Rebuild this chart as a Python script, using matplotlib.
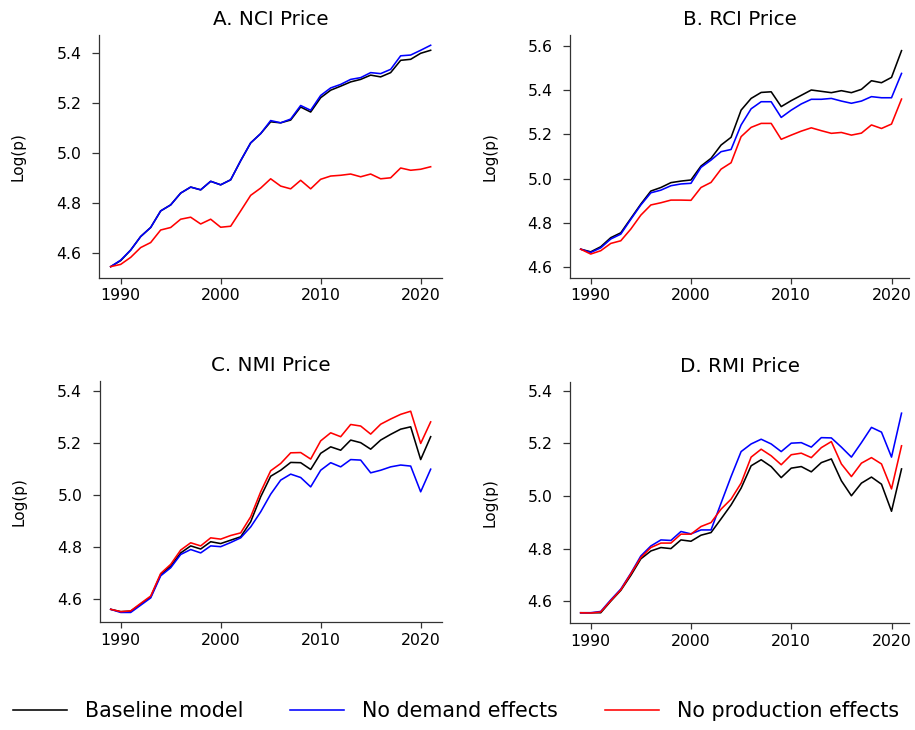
import numpy as np
from matplotlib import pyplot as plt
from matplotlib.ticker import FormatStrFormatter

years = np.arange(1989, 2022)

# A. NCI
nci_base = [4.547, 4.571, 4.613, 4.667, 4.703, 4.769, 4.793, 4.840, 4.864, 4.853, 4.887,
            4.873, 4.893, 4.969, 5.040, 5.077, 5.124, 5.120, 5.131, 5.183, 5.163, 5.220,
            5.250, 5.266, 5.283, 5.293, 5.310, 5.303, 5.320, 5.369, 5.373, 5.397, 5.409]
nci_nodem = [4.547, 4.573, 4.613, 4.667, 4.703, 4.769, 4.793, 4.840, 4.864, 4.853, 4.887,
             4.873, 4.893, 4.969, 5.040, 5.077, 5.129, 5.120, 5.135, 5.189, 5.170, 5.229,
             5.259, 5.273, 5.293, 5.300, 5.320, 5.316, 5.333, 5.387, 5.390, 5.409, 5.429]
nci_noprod = [4.547, 4.556, 4.584, 4.623, 4.643, 4.693, 4.703, 4.736, 4.744, 4.717, 4.736,
              4.704, 4.708, 4.769, 4.831, 4.860, 4.897, 4.868, 4.857, 4.891, 4.857, 4.895,
              4.908, 4.911, 4.916, 4.905, 4.916, 4.897, 4.901, 4.940, 4.931, 4.935, 4.945]

# B. RCI
rci_base = [4.681, 4.669, 4.692, 4.733, 4.755, 4.820, 4.885, 4.944, 4.960, 4.982, 4.989,
            4.994, 5.057, 5.092, 5.152, 5.187, 5.310, 5.363, 5.390, 5.393, 5.326, 5.353,
            5.377, 5.401, 5.395, 5.389, 5.398, 5.389, 5.404, 5.443, 5.434, 5.458, 5.579]
rci_nodem = [4.681, 4.666, 4.687, 4.727, 4.749, 4.816, 4.881, 4.936, 4.948, 4.968, 4.976,
             4.979, 5.051, 5.084, 5.122, 5.132, 5.243, 5.316, 5.348, 5.348, 5.277, 5.310,
             5.338, 5.359, 5.359, 5.363, 5.351, 5.341, 5.351, 5.371, 5.366, 5.366, 5.476]
rci_noprod = [4.681, 4.659, 4.674, 4.707, 4.719, 4.772, 4.835, 4.881, 4.891, 4.903, 4.903,
              4.902, 4.960, 4.983, 5.043, 5.072, 5.190, 5.232, 5.250, 5.250, 5.178, 5.197,
              5.215, 5.230, 5.217, 5.205, 5.209, 5.197, 5.206, 5.243, 5.227, 5.247, 5.360]

# C. NMI
nmi_base = [4.562, 4.553, 4.555, 4.582, 4.610, 4.696, 4.728, 4.779, 4.806, 4.794, 4.822,
            4.815, 4.828, 4.841, 4.899, 4.995, 5.074, 5.097, 5.127, 5.126, 5.100, 5.162,
            5.187, 5.174, 5.213, 5.203, 5.178, 5.213, 5.235, 5.255, 5.264, 5.138, 5.226]
nmi_nodem = [4.562, 4.550, 4.550, 4.578, 4.606, 4.691, 4.722, 4.773, 4.792, 4.779, 4.806,
             4.803, 4.819, 4.837, 4.879, 4.937, 5.005, 5.059, 5.082, 5.069, 5.033, 5.097,
             5.126, 5.110, 5.138, 5.136, 5.087, 5.097, 5.110, 5.117, 5.113, 5.014, 5.101]
nmi_noprod = [4.562, 4.553, 4.556, 4.585, 4.613, 4.700, 4.735, 4.790, 4.818, 4.806, 4.837,
              4.832, 4.846, 4.856, 4.918, 5.014, 5.095, 5.123, 5.164, 5.165, 5.140, 5.210,
              5.241, 5.226, 5.273, 5.267, 5.236, 5.274, 5.294, 5.312, 5.324, 5.200, 5.283]

# D. RMI
rmi_base = [4.556, 4.556, 4.556, 4.600, 4.641, 4.698, 4.761, 4.791, 4.804, 4.800, 4.833,
            4.828, 4.851, 4.861, 4.913, 4.966, 5.030, 5.115, 5.138, 5.112, 5.070, 5.106,
            5.112, 5.092, 5.127, 5.141, 5.058, 5.001, 5.049, 5.072, 5.045, 4.942, 5.103]
rmi_nodem = [4.556, 4.556, 4.561, 4.605, 4.646, 4.706, 4.772, 4.810, 4.833, 4.831, 4.865,
             4.856, 4.871, 4.871, 4.973, 5.074, 5.169, 5.198, 5.216, 5.198, 5.169, 5.201,
             5.203, 5.186, 5.222, 5.221, 5.186, 5.148, 5.203, 5.261, 5.243, 5.148, 5.315]
rmi_noprod = [4.556, 4.555, 4.559, 4.602, 4.643, 4.704, 4.766, 4.804, 4.821, 4.821, 4.855,
              4.855, 4.884, 4.899, 4.950, 4.988, 5.049, 5.148, 5.178, 5.153, 5.119, 5.157,
              5.163, 5.146, 5.184, 5.207, 5.122, 5.074, 5.125, 5.146, 5.122, 5.027, 5.191]

titles = ['A. NCI Price', 'B. RCI Price', 'C. NMI Price', 'D. RMI Price']
series = [
    (nci_base, nci_nodem, nci_noprod),
    (rci_base, rci_nodem, rci_noprod),
    (nmi_base, nmi_nodem, nmi_noprod),
    (rmi_base, rmi_nodem, rmi_noprod),
]
yticks = [
    [4.6, 4.8, 5.0, 5.2, 5.4],
    [4.6, 4.8, 5.0, 5.2, 5.4, 5.6],
    [4.6, 4.8, 5.0, 5.2, 5.4],
    [4.6, 4.8, 5.0, 5.2, 5.4],
]
legend_labels = ['Baseline model', 'No demand effects', 'No production effects']
colors = ['black', 'blue', 'red']

# panel rectangles in figure fraction, and their axis limits
rects = [
    (0.1085, 0.6196, 0.3745, 0.3325),
    (0.6230, 0.6196, 0.3705, 0.3325),
    (0.1093, 0.1475, 0.3734, 0.3305),
    (0.6230, 0.1462, 0.3705, 0.3310),
]
xlims = [(1987.86, 2022.13), (1987.94, 2021.75), (1987.93, 2022.1), (1987.94, 2021.75)]
ylims = [(4.503, 5.47), (4.552, 5.65), (4.512, 5.44), (4.516, 5.435)]

SPINE = '#333333'

fig = plt.figure(figsize=(9.15, 7.3), dpi=100)

handles = []
for k in range(4):
    ax = fig.add_axes(rects[k])
    for vals, c in zip(series[k], colors):
        ln, = ax.plot(years, vals, color=c, lw=1.15)
        if k == 0:
            handles.append(ln)
    ax.set_xlim(*xlims[k])
    ax.set_ylim(*ylims[k])
    ax.set_xticks([1990, 2000, 2010, 2020])
    ax.set_yticks(yticks[k])
    ax.yaxis.set_major_formatter(FormatStrFormatter('%.1f'))
    ax.set_title(titles[k], fontsize=14.3, pad=7)
    ax.set_ylabel('Log(p)', fontsize=11)
    ax.yaxis.set_label_coords(-0.214, 0.5)
    for side in ['top', 'right']:
        ax.spines[side].set_visible(False)
    for side in ['left', 'bottom']:
        ax.spines[side].set_color(SPINE)
        ax.spines[side].set_linewidth(0.9)
    ax.tick_params(axis='x', length=4.6, width=0.9, color=SPINE, labelsize=11.3, pad=3.0)
    ax.tick_params(axis='y', length=4.8, width=0.9, color=SPINE, labelsize=11.3, pad=8.0)

fig.legend(handles, legend_labels, loc='center left', bbox_to_anchor=(13 / 915, 1 - 711 / 730),
           ncol=3, frameon=False, fontsize=14.9, handlelength=2.6, handletextpad=0.87,
           columnspacing=2.27, borderpad=0, borderaxespad=0)

fig.savefig('out.png', dpi=100)
